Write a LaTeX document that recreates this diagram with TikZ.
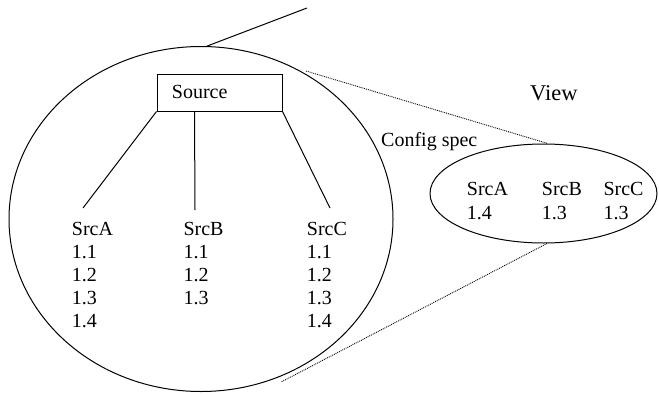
\documentclass[tikz,border=0pt]{standalone}
\usepackage{fontspec}
\setmainfont{Liberation Serif}
\usetikzlibrary{shapes.geometric}
\begin{document}
\begin{tikzpicture}[x=1pt,y=-1pt,
  lbl/.style={anchor=base west, inner sep=0pt, font=\fontsize{20}{23}\selectfont},
  biglbl/.style={lbl, font=\fontsize{22.5}{26}\selectfont},
  outline/.style={draw, line width=1pt},
  link/.style={line width=1pt},
  zoomline/.style={line width=0.9pt, dash pattern=on 0.9pt off 1pt}]
  \useasboundingbox (0,0) rectangle (659,394);

  % the source tree, enclosed in the large ellipse
  \node[ellipse, outline, inner sep=0pt, minimum width=384pt, minimum height=345pt] (tree) at (201,219) {};
  \node[outline, minimum width=125pt, minimum height=37pt, inner sep=0pt] (src) at (219.5,92.5) {};
  \node[lbl] (srclbl) at (171.7,98.3) {Source};

  % version columns
  \foreach \col/\x/\vers in {A/71.7/{1.1,1.2,1.3,1.4}, B/183.3/{1.1,1.2,1.3}, C/306.7/{1.1,1.2,1.3,1.4}} {
    \node[lbl] (h\col) at (\x,235) {Src\col};
    \foreach \v [count=\i] in \vers {
      \node[lbl] (v\col\i) at (\x,{235+23*\i}) {\v};
    }
  }

  \coordinate (endA) at (83,208);
  \coordinate (endB) at (195,210);
  \coordinate (endC) at (330,208);
  \draw[link] (src.south west) -- (endA);
  \draw[link] ([xshift=38pt]src.south west) -- (endB);
  \draw[link] (src.south east) -- (endC);

  % handle line leaving the top of the large ellipse
  \coordinate (handle) at (307,8);
  \draw[link] (tree.88) -- (handle);

  % the selected view
  \node[ellipse, outline, inner sep=0pt, minimum width=227pt, minimum height=99pt] (view) at (543.5,193.5) {};
  \node[lbl] (vA) at (466.7,195) {SrcA};
  \node[lbl] (vB) at (541.7,195) {SrcB};
  \node[lbl] (vC) at (603.3,195) {SrcC};
  \node[lbl] (vA1) at (466.7,219) {1.4};
  \node[lbl] (vB1) at (541.7,219) {1.3};
  \node[lbl] (vC1) at (603.3,219) {1.3};

  \node[biglbl] (viewlbl) at (530,100) {View};
  \node[lbl] (cfg) at (381,146.7) {Config spec};

  % dotted projection lines
  \coordinate (zt) at (306,71);
  \coordinate (zb) at (281.7,381.7);
  \draw[zoomline] (zt) -- (view.85);
  \draw[zoomline] (zb) -- (view.-86);
\end{tikzpicture}
\end{document}
